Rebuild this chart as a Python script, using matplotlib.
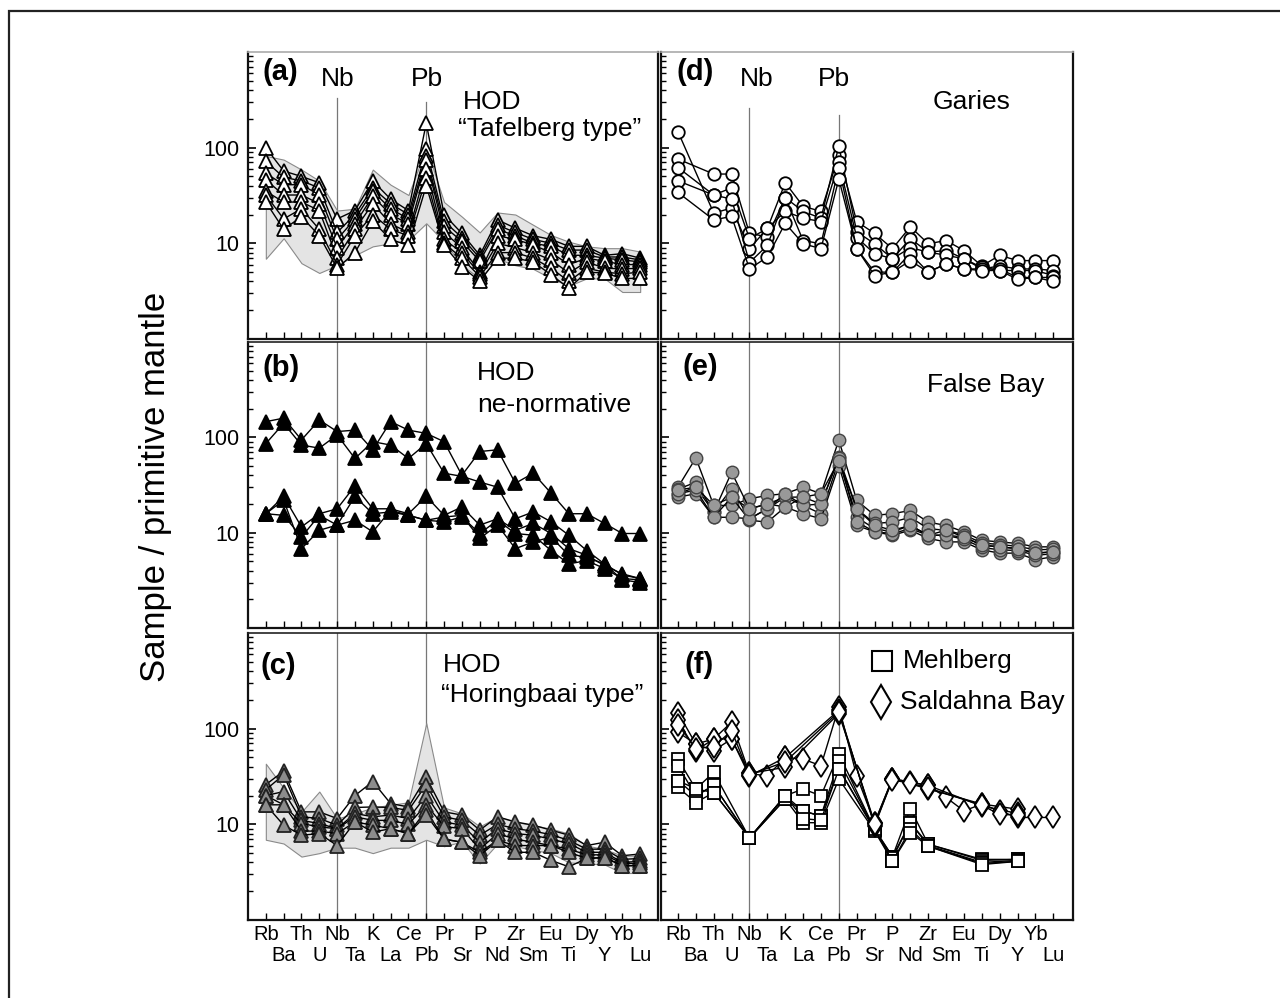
import numpy as np
import matplotlib
matplotlib.use("Agg")
import matplotlib.pyplot as plt
from matplotlib.ticker import LogLocator, NullFormatter, FixedLocator
from matplotlib.patches import Rectangle

plt.rcParams['font.family'] = ['Liberation Sans', 'DejaVu Sans']

nan = float('nan')

# element order of the spider diagram
elements = ["Rb", "Ba", "Th", "U", "Nb", "Ta", "K", "La", "Ce", "Pb", "Pr",
            "Sr", "P", "Nd", "Zr", "Sm", "Eu", "Ti", "Dy", "Y", "Yb", "Lu"]

# (a) HOD "Tafelberg type"
tafelberg = [
    [100, 57, 50, 43, 18, 22, 45, 29, 22, 180, 20, 12.7, 7.5, 17.6, 14.4, 12, 11, 9.3, 9.3, 7.5, 7.8, 7],
    [72, 49, 45, 38, 13, 20, 38, 26, 20, 96, 17, 11.5, 7, 15.5, 13, 11, 10, 8.5, 8.5, 7.2, 7.2, 6.7],
    [54, 41, 41, 32, 11, 18, 35, 23, 18, 82, 15, 10.5, 6.5, 14, 12, 10, 9.3, 7.5, 7.5, 7, 6.7, 6.4],
    [46, 32, 32, 26, 9, 16, 31, 20, 16, 75, 13, 9, 5, 12, 11, 9.6, 8, 6, 7, 6.5, 6, 6],
    [35, 27, 27, 22, 7, 14, 26, 16, 13, 60, 11, 8, 4.8, 10, 9, 8, 6.7, 4.9, 6.4, 5.5, 5.4, 5.5],
    [32, 18, 23, 14, 6, 12, 20, 14, 12, 48, 10, 7, 4.5, 8, 8, 7, 5.5, 4, 5.5, 5, 4.8, 5],
    [27, 14, 19, 12, 5.5, 8, 17, 11, 9.5, 40, 9.5, 5.7, 4.0, 7, 7, 6.4, 4.7, 3.4, 5, 4.9, 4.3, 4.3],
]
tafelberg_hi = [82, 75, 59, 45, 22, 23, 59, 41, 32, 100, 27, 19, 13, 21, 20, 15.6, 12.2, 10.4, 9.3, 8.9, 8.9, 8.2]
tafelberg_lo = [6.9, 11.3, 6.2, 4.9, 5.9, 7.5, 9.3, 10, 10.8, 16.2, 10.4, 5.9, 4.3, 6.9, 5.9, 5.4, 4.3, 3.6, 4.3, 4.3, 3.1, 3.1]

# (b) HOD ne-normative
nenorm = [
    [146, 159, 94, 152, 115, 119, 74, 146, 119, 110, 90, 40, 71, 74, 33, 42, 26, 15.8, 15.8, 12.5, 9.8, 9.8],
    [86, 140, 83, 77, 106, 60, 90, 83, 60, 86, 42, 39, 34, 30, 14, 16.5, 13, 9.4, 6.5, 4.7, 3.6, 3.3],
    [15.8, 24, 11.5, 15.8, 17.8, 31, 17.8, 17.8, 15.8, 24, 15.2, 18.6, 12, 14, 10.6, 12.5, 9.8, 6.8, 5.8, 4.5, 3.7, 3.3],
    [15.8, 15.2, 9, 15.2, 12, 24, 15.8, 16.5, 15.2, 13.5, 13, 14.6, 9.8, 13.5, 9.8, 9.4, 6.5, 4.7, 5.1, 4.2, 3.3, 3.2],
    [15.8, 22, 6.8, 10.6, 12, 13.5, 10.2, 17.2, 15.2, 13.5, 14.6, 15.2, 8.7, 12, 6.8, 8, 9, 5.8, 5.5, 4.7, 3.2, 3.0],
]

# (c) HOD "Horingbaai type"
horingbaai = [
    [26, 36, 13.5, 13.5, 11.5, 20, 28, 16.5, 15.2, 31, 13.5, 12.5, 8.7, 12, 10.6, 9.8, 8.7, 7.7, 6, 6.5, 4.7, 4.9],
    [23, 33, 12, 11.5, 9.8, 15, 15.2, 15, 14, 26, 12, 11, 7.7, 10, 9, 8.5, 7.8, 6.8, 5.5, 5.5, 4.3, 4.4],
    [20, 22, 11, 10.2, 9, 13, 12, 12.5, 11.5, 20, 10.6, 9.8, 6.5, 9, 8, 7.7, 7, 6.3, 5.1, 5.1, 4, 4.1],
    [20, 16, 10.2, 9.4, 9, 12, 11, 11, 10, 16, 9.5, 9, 5.5, 8, 7, 6.5, 6, 5.5, 4.8, 4.8, 3.9, 3.9],
    [16, 16, 8.5, 8.5, 8, 10.6, 9.8, 9, 8, 14, 7, 6.5, 5.1, 6.8, 6, 6, 6, 5.1, 4.4, 4.5, 3.7, 3.7],
    [16, 9.8, 7.7, 8, 6, 10.6, 8.3, 9, 8, 12.5, 7, 6.5, 4.7, 6.8, 5.1, 5.1, 4.2, 3.6, 4.4, 4.5, 3.7, 3.7],
]
horingbaai_hi = [43, 24, 13.5, 22, 11.5, 13, 15, 16, 17, 114, 15, 13, 9.5, 12, 10.6, 9.8, 9, 8, 6, 5.5, 4.7, 4.7]
horingbaai_lo = [6.9, 6.3, 4.6, 5, 5.7, 5.7, 5, 5.7, 5.7, 6.9, 5.9, 6.6, 3.9, 6.3, 5.9, 5.4, 5, 4, 3.9, 3.8, 3.1, 3.1]

# (d) Garies (no Ba)
garies = [
    [147, nan, 20.7, 23.4, 8.8, 14.3, 43, 24.4, 21.6, 83, 16.9, 12.7, 8.8, 14.9, 9.9, 10.7, 8.4, 5.8, 7.5, 6.6, 6.6, 6.6],
    [76, nan, 53, 53, 12.7, 11.7, 30, 21.6, 18.3, 104, 13.2, 9.9, 6.9, 11.2, 8.1, 8.4, 6.9, 5.4, 5.8, 5.4, 5.4, 5.2],
    [62, nan, 32, 38, 11.2, 14.3, 21.6, 18.3, 16.9, 70, 11.5, 7.8, 6.9, 9, 8.1, 7.5, 6.9, 5.6, 5.2, 5.2, 5.2, 4.6],
    [45, nan, 32, 29, 6.3, 9.5, 30, 10.7, 9.9, 62, 8.8, 5, 5.0, 7.8, 5.0, 6.1, 5.4, 5.4, 5.4, 4.4, 4.4, 4.4],
    [34, nan, 17.6, 19.1, 5.4, 7.2, 16.2, 9.9, 8.8, 47, 8.8, 4.6, 5.0, 6.6, 5.0, 6.1, 5.4, 5.2, 5.2, 4.2, 4.4, 4.0],
]

# (e) False Bay
falsebay = [
    [30, 60.8, 19.3, 19.3, 22.7, 24.6, 25.6, 30, 25.6, 93.8, 21.8, 15.2, 15.8, 17.1, 12.9, 11.9, 10.2, 8.3, 8.0, 7.7, 7.1, 7.1],
    [28.6, 33.8, 16.4, 43, 17.8, 20, 23.6, 23.6, 20, 61.8, 17.8, 12.5, 12.9, 14.5, 11, 10.6, 9.5, 7.8, 7.5, 7.2, 6.6, 6.7],
    [25.6, 30, 16.4, 29, 14, 17.8, 23.6, 19.3, 15.8, 57, 14.5, 11, 10.2, 11.9, 9.4, 9.4, 9.0, 7.4, 7.1, 6.8, 6.1, 6.3],
    [23.6, 25.6, 14.5, 23.6, 13.5, 12.9, 18.6, 15.8, 14, 50.6, 11.9, 10.2, 9.4, 10.6, 8.7, 8.0, 8.0, 6.6, 6.1, 6.1, 5.2, 5.6],
    [25.6, 28, 14.5, 14.5, 14, 17.8, 25.6, 19.3, 20, 61, 13, 10.2, 9.8, 11, 9.4, 9.4, 8.5, 7.0, 6.6, 6.5, 5.8, 6.0],
    [28, 30, 19.3, 23.6, 17.8, 20, 18.6, 23.6, 25.6, 57, 17.8, 11.9, 10.6, 11.9, 9.4, 10.6, 9.0, 7.4, 7.1, 6.8, 6.1, 6.3],
]

# (f) Mehlberg (squares) and Saldahna Bay (diamonds)
mehlberg = [
    [48, 23.4, 35, nan, 7.2, nan, 19.9, 23.4, 19.9, 54.6, nan, 8.9, 4.6, 14.6, 6.2, nan, nan, 4.3, nan, 4.3, nan, nan],
    [41, 19.9, 25.5, nan, 7.2, nan, 19.9, 13.8, 12.2, 46.4, nan, 8.9, 4.6, 10.4, 6.2, nan, nan, 4.2, nan, 4.3, nan, nan],
    [28.7, 19.9, 25.5, nan, 7.2, nan, 18.4, 13.8, 12.2, 38, nan, 8.7, 4.4, 10.4, 6.0, nan, nan, 4.0, nan, 4.2, nan, nan],
    [24.4, 16.9, 21.5, nan, 7.2, nan, 18.4, 10.4, 10.4, 29.8, nan, 8.5, 4.1, 8.9, 5.9, nan, nan, 3.9, nan, 4.1, nan, nan],
    [28.7, 23.4, 21.5, nan, 7.2, nan, 19.9, 11.5, 11, 38, nan, 8.9, 4.1, 8.2, 5.9, nan, nan, 3.8, nan, 4.1, nan, nan],
]
saldahna = [
    [147, 69, 78, 117, 34, 32, 50, 48, 41, 169, 32, 10.4, 30, 27.5, 25.5, 19.1, 13.8, 16.3, 13.8, 11.8, 11.8, 11.8],
    [122, 59, 78, 78, 32, nan, 50, nan, nan, 156, nan, 9.6, 30, nan, 23.4, nan, nan, 16.3, nan, 14.4, nan, nan],
    [92, 69, 59, 78, 34, nan, 39.5, nan, nan, 144, nan, 10.4, 30, nan, 25.5, nan, nan, 15.5, nan, 13.0, nan, nan],
    [110, 62, 65, 95, 33, nan, 45, nan, nan, 150, nan, 10, 29, 27, 24, nan, nan, 15.8, 12.7, 12.5, nan, nan],
]

W, H = 1280, 998
fig = plt.figure(figsize=(W / 100, H / 100), dpi=100)
fig.patch.set_facecolor("white")


def px_axes(x0, y0, x1, y1):
    return fig.add_axes([x0 / W, 1 - y1 / H, (x1 - x0) / W, (y1 - y0) / H])


def ftext(x, y, s, **kw):
    fig.text(x / W, 1 - y / H, s, **kw)


X = np.arange(len(elements))
cols = [(248, 658, (-1.0, 22.0)), (661, 1073, (-0.95, 22.1))]
rows = [(52, 339), (342, 628), (633, 920)]

axes = {}
for ci, (x0, x1, xl) in enumerate(cols):
    for ri, (y0, y1) in enumerate(rows):
        ax = px_axes(x0, y0, x1, y1)
        hpx = y1 - y0
        ax.set_yscale("log")
        ax.set_ylim(1, 1000)
        ax.set_xlim(*xl)
        ax.set_xticks(X)
        ax.set_xticklabels([])
        if ri == 2:
            # element names in two staggered rows
            for i, e in enumerate(elements):
                off = 5 if i % 2 == 0 else 26
                ax.text(i, -off / hpx, e, transform=ax.get_xaxis_transform(),
                        ha="center", va="top", fontsize=14.5)
        ax.tick_params(axis="x", direction="in", length=5, width=1.0, top=False)
        ax.yaxis.set_major_locator(FixedLocator([10, 100]))
        ax.yaxis.set_minor_locator(LogLocator(base=10, subs=np.arange(2, 10), numticks=10))
        ax.yaxis.set_minor_formatter(NullFormatter())
        if ci == 0:
            ax.set_yticklabels(["10", "100"], fontsize=15.5)
        else:
            ax.set_yticklabels([])
        ax.tick_params(axis="y", which="major", direction="in", length=6, width=1.2, pad=6, right=False)
        ax.tick_params(axis="y", which="minor", direction="in", length=3.5, width=1.0, right=False)
        for side in ["left", "bottom", "right"]:
            ax.spines[side].set_linewidth(1.6)
            ax.spines[side].set_color("#111111")
        ax.spines["top"].set_linewidth(1.2)
        ax.spines["top"].set_color("#aaaaaa" if ri == 0 else "#222222")
        axes[(ci, ri)] = ax

ax_a, ax_b, ax_c = axes[(0, 0)], axes[(0, 1)], axes[(0, 2)]
ax_d, ax_e, ax_f = axes[(1, 0)], axes[(1, 1)], axes[(1, 2)]

# Nb and Pb guide lines
nb, pb = elements.index("Nb"), elements.index("Pb")
for ax in [ax_b, ax_c, ax_e, ax_f]:
    for xi in (nb, pb):
        ax.axvline(xi, color="#777777", lw=0.9, zorder=1)
for xi, top in ((nb, 0.84), (pb, 0.826)):
    ax_a.axvline(xi, ymin=0, ymax=top, color="#777777", lw=0.9, zorder=1)
for xi, top in ((nb, 0.805), (pb, 0.78)):
    ax_d.axvline(xi, ymin=0, ymax=top, color="#777777", lw=0.9, zorder=1)


def envelope(ax, hi, lo):
    ax.fill_between(X, lo, hi, facecolor="#e4e4e4", edgecolor="#8a8a8a", lw=0.8, zorder=1.5)


def spider(ax, series, marker, ms, mfc, mec="black", mew=1.3):
    for s in series:
        v = np.array(s, dtype=float)
        ok = ~np.isnan(v)
        ax.plot(X[ok], v[ok], color="black", lw=1.0, marker=marker, ms=ms,
                mfc=mfc, mec=mec, mew=mew, zorder=3)


envelope(ax_a, tafelberg_hi, tafelberg_lo)
spider(ax_a, tafelberg, "^", 9.5, "white")
spider(ax_b, nenorm, "^", 9.5, "black")
envelope(ax_c, horingbaai_hi, horingbaai_lo)
spider(ax_c, horingbaai, "^", 9.5, "#8c8c8c", mec="#222222")
spider(ax_d, garies, "o", 9, "white")
spider(ax_e, falsebay, "o", 9, "#999999", mec="#444444", mew=1.0)
spider(ax_f, mehlberg, "s", 9, "white")
spider(ax_f, saldahna, "d", 11.5, "white")

# annotations
FS = 19
bold = dict(fontsize=21, fontweight="bold", va="center", ha="left")
norm = dict(fontsize=FS, va="center", ha="left")
cen = dict(fontsize=FS, va="center", ha="center")
ftext(262, 72, "(a)", **bold)
ftext(338, 79, "Nb", **cen)
ftext(427, 79, "Pb", **cen)
ftext(463, 102, "HOD", **norm)
ftext(458, 129, "\u201cTafelberg type\u201d", **norm)

ftext(677, 72, "(d)", **bold)
ftext(757, 79, "Nb", **cen)
ftext(834, 79, "Pb", **cen)
ftext(933, 102, "Garies", **norm)

ftext(262, 368, "(b)", **bold)
ftext(477, 373, "HOD", **norm)
ftext(477, 405, "ne-normative", **norm)

ftext(683, 367, "(e)", **bold)
ftext(927, 385, "False Bay", **norm)

ftext(261, 666, "(c)", **bold)
ftext(443, 665, "HOD", **norm)
ftext(441, 695, "\u201cHoringbaai type\u201d", **norm)

ftext(684, 665, "(f)", **bold)
fig.lines.append(plt.Line2D([882 / W], [1 - 661 / H], transform=fig.transFigure, marker="s",
                            ms=14.5, mfc="white", mec="black", mew=1.5, ls="none"))
fig.lines.append(plt.Line2D([881 / W], [1 - 702 / H], transform=fig.transFigure, marker="d",
                            ms=17.5, mfc="white", mec="black", mew=1.5, ls="none"))
ftext(903, 661, "Mehlberg", **norm)
ftext(900, 702, "Saldahna Bay", **norm)

ftext(155, 487, "Sample / primitive mantle", fontsize=25, rotation=90, va="center", ha="center")

# outer frame (cut off at the right and bottom edge)
fig.patches.append(Rectangle((9 / W, -0.1), 1.2, 1.1 - 11 / H, transform=fig.transFigure,
                             fill=False, edgecolor="#222222", lw=1.6))

fig.savefig("out.png", dpi=100)
